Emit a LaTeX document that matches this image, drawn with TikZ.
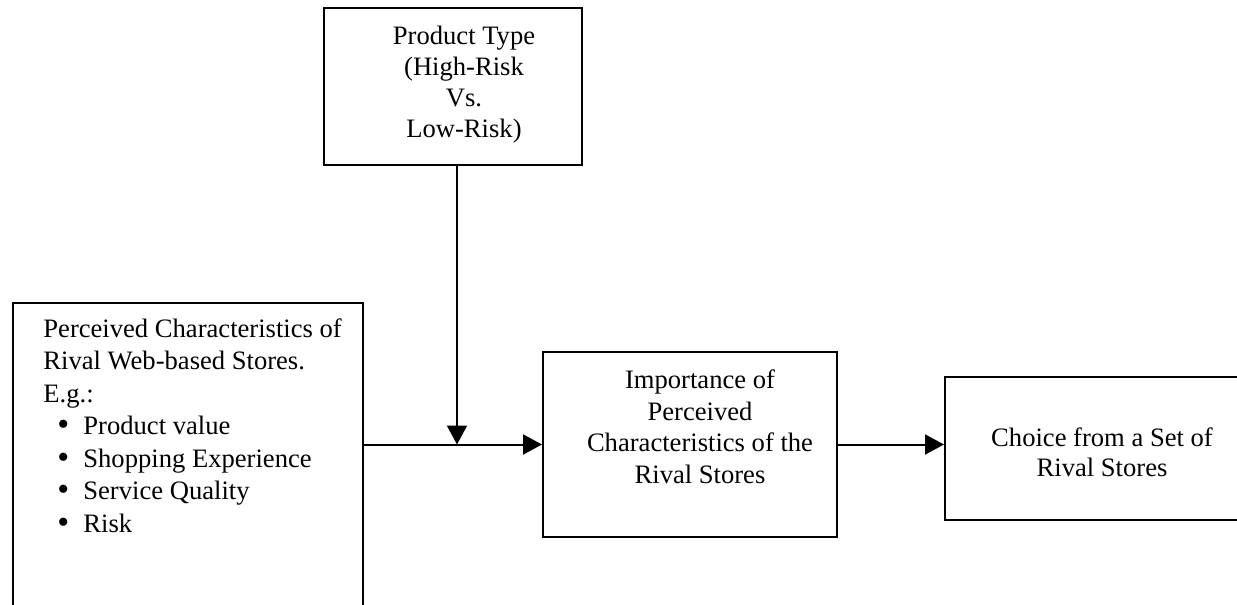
\documentclass[tikz,border=0pt]{standalone}
\usepackage{fontspec}
\setmainfont{Liberation Serif}
\usetikzlibrary{arrows.meta}
\newcommand\fl{\rule{0pt}{11pt}}
\newcommand\bul{\makebox[20pt][l]{\hspace{7pt}\raisebox{-0.3pt}{\fontsize{17}{17}\selectfont\textbullet}}}
\tikzset{
  box/.style={draw=black, line width=1pt, rectangle, inner sep=0pt},
  txt/.style={inner sep=0pt, anchor=north, align=center},
  arr/.style={line width=1pt, -{Triangle[length=9.5pt,width=10pt]}},
}
\begin{document}
\begin{tikzpicture}[x=0.5pt, y=-0.5pt]
\useasboundingbox (0,0) rectangle (1237,605);
\clip (0,0) rectangle (1237,605);
% boxes
\node[box, minimum width=129pt, minimum height=78.5pt] (top) at (453,86.5) {};
\node[box, minimum width=175pt, minimum height=173.5pt] (left) at (188,476.5) {};
\node[box, minimum width=147pt, minimum height=92.5pt] (mid) at (690,444.5) {};
\node[box, minimum width=158pt, minimum height=71.5pt] (right) at (1103,448.5) {};
% texts
\node[txt, font=\fontsize{13.3}{15.5}\selectfont] (toptxt) at (464,22)
  {\fl Product Type\\(High-Risk\\Vs.\\Low-Risk)};
\node[txt, anchor=north west, align=left, font=\fontsize{13.3}{16.25}\selectfont] (lefttxt) at (43,315)
  {\fl Perceived Characteristics of\\Rival Web-based Stores.\\E.g.:\\
   \bul Product value\\
   \bul Shopping Experience\\
   \bul Service Quality\\
   \bul Risk};
\node[txt, font=\fontsize{13.3}{15.85}\selectfont] (midtxt) at (700,366)
  {\fl Importance of\\Perceived\\Characteristics of the\\Rival Stores};
\node[txt, font=\fontsize{13.3}{15}\selectfont] (righttxt) at (1102,424)
  {\fl Choice from a Set of\\Rival Stores};
% connectors
\coordinate (j) at (457,444.5);
\draw[arr] (top.south -| j) -- (j);
\draw[arr] (left.east |- mid.west) -- (mid.west);
\draw[arr] (mid.east) -- (mid.east -| right.west);
\end{tikzpicture}
\end{document}
